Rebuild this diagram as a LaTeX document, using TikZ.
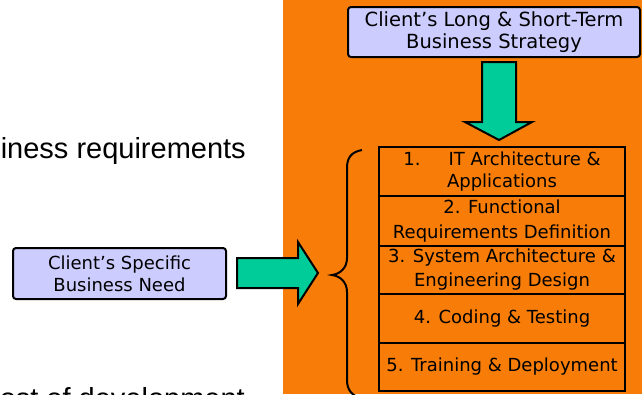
\documentclass[tikz,border=0pt]{standalone}
\usepackage{fontspec}
\setmainfont{DejaVu Sans}
\newfontfamily\arialf{Liberation Sans}
\definecolor{bgorange}{RGB}{247,125,8}
\definecolor{lav}{RGB}{204,204,255}
\definecolor{arrowgreen}{RGB}{0,204,153}
\begin{document}
\begin{tikzpicture}[x=1pt,y=-1pt,
  boxfont/.style={font=\fontsize{18}{22}\selectfont},
  lavbox/.style={draw=black, line width=2pt, fill=lav, rounded corners=3pt, align=center, inner sep=0pt, boxfont},
  stagebox/.style={draw=black, line width=2pt, fill=bgorange, align=center, inner sep=0pt, minimum width=246pt, boxfont},
  fatarrow/.style={draw=black, line width=2pt, fill=arrowgreen, line join=miter},
  bodytext/.style={font=\arialf\fontsize{29}{34}\selectfont, inner sep=0pt, text=black}
]
\useasboundingbox (0,0) rectangle (642,394);
\clip (0,0) rectangle (642,394);
\fill[white] (0,0) rectangle (642,394);
\fill[bgorange] (283,0) rectangle (642,394);

% body text on the left
\node[bodytext, anchor=base east] (req) at (246,158) {iness requirements};
\node[bodytext, anchor=base east] (cost) at (245,408) {ost of development};

% top box
\node[lavbox, minimum width=292pt, minimum height=50pt, font=\fontsize{19.5}{22}\selectfont] (strategy) at (494,32)
  {Client's Long \& Short-Term\\Business Strategy};

% left box
\node[lavbox, minimum width=213pt, minimum height=51pt] (need) at (119.5,273.5)
  {Client's Specific\\Business Need};

% stages
\node[stagebox, minimum height=49pt] (s1) at (502,171.5)
  {1.\hspace{28pt}IT Architecture \&\\Applications};
\node[stagebox, minimum height=50pt, font=\fontsize{18}{25}\selectfont] (s2) at (502,221)
  {2. Functional\\Requirements Definition};
\node[stagebox, minimum height=48pt, font=\fontsize{18}{24}\selectfont] (s3) at (502,270)
  {3. System Architecture \&\\Engineering Design};
\node[stagebox, minimum height=49pt] (s4) at (502,318.5)
  {4. Coding \& Testing};
\node[stagebox, minimum height=48pt] (s5) at (502,367)
  {5. Training \& Deployment};

% brace
\coordinate (bracetip) at (332,275);
\draw[line width=2pt] (362,150) .. controls (351,152) and (347,158) .. (347,168)
  -- (347,258) .. controls (347,268) and (340,274) .. (bracetip)
  .. controls (340,276) and (347,282) .. (347,292)
  -- (347,380) .. controls (347,389) and (351,395) .. (360,398);

% down arrow from strategy to stages
\draw[fatarrow] (482,62) -- (516,62) -- (516,122) -- (532,122) -- (499,140)
  -- (465,122) -- (482,122) -- cycle;

% right arrow from need to brace
\draw[fatarrow] (237,258) -- (298,258) -- (298,242) -- (318,273) -- (298,304)
  -- (298,288) -- (237,288) -- cycle;
\end{tikzpicture}
\end{document}
